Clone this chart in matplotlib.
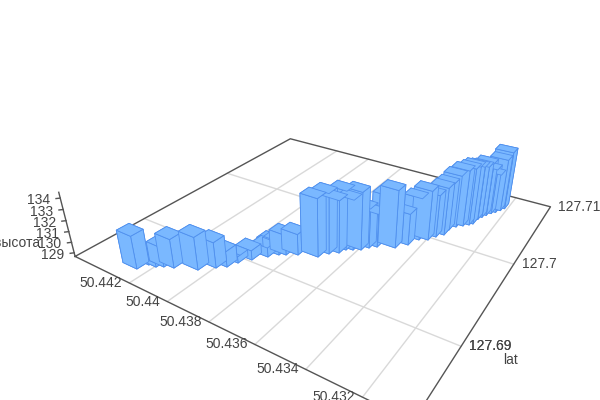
import numpy as np
import matplotlib
matplotlib.use('agg')
import matplotlib.pyplot as plt
from mpl_toolkits.mplot3d import proj3d

plt.rcParams['font.family'] = ['Liberation Sans', 'DejaVu Sans']

# points along the track
lat = [127.68544, 127.68624, 127.68634, 127.68665, 127.68695, 127.68770, 127.68858, 127.68909, 127.68990, 127.69074,
       127.69167, 127.69239, 127.69232, 127.69260, 127.69308, 127.69366, 127.69443, 127.69494, 127.69556, 127.69584,
       127.69617, 127.69673, 127.69717, 127.69824, 127.69780, 127.69869, 127.69978, 127.70015, 127.70088, 127.70149,
       127.70239, 127.70312, 127.70357, 127.70398, 127.70430, 127.70520, 127.70570, 127.70620, 127.70670, 127.70710,
       127.70760, 127.70810]
lon = [50.44286, 50.44268, 50.44234, 50.44209, 50.44171, 50.44084, 50.44035, 50.44004, 50.43986, 50.43954,
       50.43914, 50.43919, 50.43886, 50.43862, 50.43822, 50.43747, 50.43722, 50.43692, 50.43680, 50.43656,
       50.43629, 50.43609, 50.43585, 50.43565, 50.43520, 50.43486, 50.43465, 50.43433, 50.43415, 50.43393,
       50.43391, 50.43375, 50.43353, 50.43334, 50.43323, 50.43319, 50.43310, 50.43300, 50.43287, 50.43274,
       50.43261, 50.43251]
height = [131.66, 129.22, 129.03, 130.44, 131.29, 131.65, 131.00, 130.06, 129.22, 129.51,
          129.51, 129.52, 129.80, 130.50, 130.60, 134.00, 134.20, 133.50, 134.10, 133.31,
          134.00, 132.35, 131.77, 132.98, 134.00, 131.59, 132.60, 133.29, 132.63, 133.14,
          133.10, 133.60, 134.00, 134.10, 134.20, 133.81, 133.63, 133.77, 133.06, 132.44,
          133.73, 134.29]

lat_lim = (127.6835, 127.71)
lon_lim = (50.4304, 50.4452)
z_lim = (128.65, 134.5)
lat_ticks = [127.69, 127.7, 127.71]
lon_ticks = [50.432, 50.434, 50.436, 50.438, 50.44, 50.442]
z_ticks = [129, 130, 131, 132, 133, 134]

w_lat, w_lon = 0.0011, 0.0008
bar_color = '#7ab8ff'
edge_color = '#5090ee'
axis_color = '#555555'
grid_color = '#d9d9d9'
text_color = '#444444'

fig = plt.figure(figsize=(6, 4), dpi=100)
ax = fig.add_axes([80 / 600, -50 / 400, 486.3 / 600, 486.3 / 400], projection='3d')
ax.computed_zorder = False
ax.set_xlim(*lat_lim)
ax.set_ylim(*lon_lim)
ax.set_zlim(*z_lim)
ax.view_init(28.723, -147.022)
ax.set_proj_type('persp', focal_length=0.22)
ax.set_box_aspect((0.973, 1, 0.195))
ax.set_axis_off()

zb = z_lim[0]
for t in lat_ticks[:-1]:
    ax.plot([t, t], lon_lim, [zb, zb], color=grid_color, lw=1, zorder=1, clip_on=False)
for t in lon_ticks:
    ax.plot(lat_lim, [t, t], [zb, zb], color=grid_color, lw=1, zorder=1, clip_on=False)

# floor frame and height axis
fx = [lat_lim[0], lat_lim[1], lat_lim[1], lat_lim[0], lat_lim[0]]
fy = [lon_lim[1], lon_lim[1], lon_lim[0], lon_lim[0], lon_lim[1]]
ax.plot(fx, fy, [zb] * 5, color=axis_color, lw=1, zorder=2, clip_on=False)
ax.plot([lat_lim[0]] * 2, [lon_lim[1]] * 2, z_lim, color=axis_color, lw=1, zorder=2, clip_on=False)
for t in z_ticks:
    ax.plot([lat_lim[0], lat_lim[0] - 0.0002], [lon_lim[1], lon_lim[1] + 0.0001], [t, t],
            color=axis_color, lw=1, zorder=2, clip_on=False)

lat_a = np.array(lat)
lon_a = np.array(lon)
h_a = np.array(height)
ax.bar3d(lat_a - w_lat / 2, lon_a - w_lon / 2, np.full(len(lat_a), zb), w_lat, w_lon, h_a - zb,
         color=bar_color, edgecolor=edge_color, linewidth=0.6, shade=False, zorder=5)


def label(x, y, z, s, dx, dy, ha):
    u, v, _ = proj3d.proj_transform(x, y, z, ax.get_proj())
    ax.annotate(s, xy=(u, v), xytext=(dx, dy), textcoords='offset pixels', ha=ha, va='center',
                fontsize=10, color=text_color, annotation_clip=False, zorder=10)


for t in lon_ticks:
    label(lat_lim[0], t, zb, str(t), -7, 0, 'right')
for t in lat_ticks:
    label(t, lon_lim[0], zb, str(t), 8, 0, 'left')
label(127.69, lon_lim[0], zb, '127.69', 8, 0, 'left')
for t in z_ticks:
    label(lat_lim[0], lon_lim[1], t, str(t), -10, -2, 'right')

fig.text(511 / 600, 1 - 360 / 400, 'lat', fontsize=10, color=text_color, ha='center', va='center')
fig.text(17 / 600, 1 - 243 / 400, 'высота', fontsize=10, color=text_color, ha='center', va='center')

fig.savefig('out.png', dpi=100)
